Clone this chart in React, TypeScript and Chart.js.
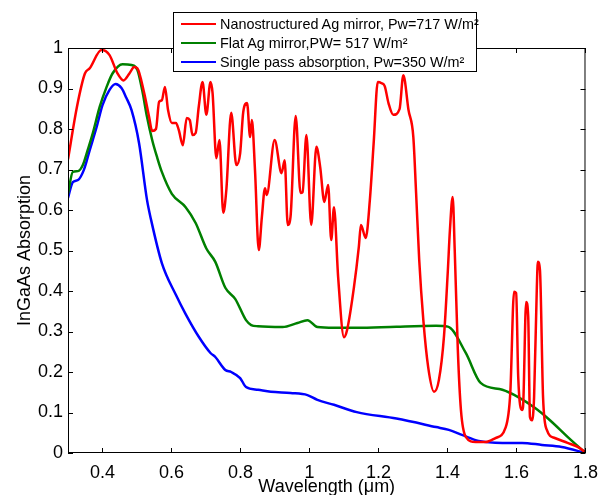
import React, { useEffect, useRef } from "react";
import { Chart, registerables } from "chart.js";

Chart.register(...registerables);

const seriesLabels = [
  "Nanostructured Ag mirror, Pw=717 W/m²",
  "Flat Ag mirror,PW= 517 W/m²",
  "Single pass absorption, Pw=350 W/m²",
];
const seriesColors = ["#ff0000", "#008000", "#0000ff"];

const nanoWavelength = [
  0.3, 0.326, 0.349, 0.363, 0.397, 0.42, 0.443, 0.461, 0.478, 0.492,
  0.501, 0.521, 0.535, 0.544, 0.555, 0.564, 0.572, 0.581, 0.59, 0.601,
  0.613, 0.621, 0.633, 0.644, 0.653, 0.661, 0.67, 0.679, 0.69, 0.701,
  0.713, 0.719, 0.73, 0.739, 0.75, 0.759, 0.773, 0.788, 0.799, 0.808,
  0.819, 0.828, 0.833, 0.842, 0.853, 0.862, 0.871, 0.876, 0.899, 0.919,
  0.928, 0.937, 0.945, 0.96, 0.974, 0.98, 0.991, 1.005, 1.02, 1.031,
  1.043, 1.054, 1.063, 1.071, 1.083, 1.1, 1.109, 1.129, 1.143, 1.149,
  1.163, 1.175, 1.186, 1.198, 1.209, 1.218, 1.229, 1.243, 1.261, 1.272,
  1.287, 1.301, 1.309, 1.318, 1.33, 1.344, 1.361, 1.375, 1.39, 1.401,
  1.407, 1.415, 1.421, 1.43, 1.439, 1.453, 1.482, 1.51, 1.539, 1.568,
  1.582, 1.593, 1.599, 1.605, 1.616, 1.619, 1.628, 1.634, 1.639, 1.645,
  1.651, 1.659, 1.662, 1.668, 1.677, 1.688, 1.711, 1.748, 1.777, 1.8,
];
const nanoAbsorption = [
  0.725, 0.855, 0.937, 0.95, 0.995, 0.983, 0.938, 0.92, 0.937, 0.953,
  0.95, 0.888, 0.83, 0.795, 0.8, 0.867, 0.871, 0.904, 0.847, 0.815,
  0.815, 0.798, 0.76, 0.827, 0.822, 0.785, 0.79, 0.855, 0.916, 0.835,
  0.916, 0.889, 0.728, 0.773, 0.593, 0.65, 0.84, 0.711, 0.74, 0.842,
  0.864, 0.78, 0.822, 0.699, 0.501, 0.583, 0.654, 0.637, 0.773, 0.691,
  0.723, 0.563, 0.583, 0.832, 0.642, 0.644, 0.785, 0.563, 0.756, 0.706,
  0.62, 0.662, 0.526, 0.607, 0.435, 0.286, 0.304, 0.41, 0.509, 0.563,
  0.531, 0.625, 0.765, 0.916, 0.913, 0.906, 0.864, 0.835, 0.849, 0.933,
  0.847, 0.78, 0.642, 0.477, 0.328, 0.212, 0.151, 0.18, 0.29, 0.45,
  0.55, 0.632, 0.5, 0.254, 0.106, 0.04, 0.027, 0.027, 0.037, 0.062,
  0.148, 0.398, 0.395, 0.188, 0.106, 0.114, 0.373, 0.336, 0.089, 0.081,
  0.138, 0.41, 0.472, 0.452, 0.138, 0.057, 0.037, 0.025, 0.015, 0.002,
];

const flatWavelength = [
  0.3, 0.314, 0.329, 0.343, 0.357, 0.372, 0.392, 0.412, 0.429, 0.458,
  0.484, 0.501, 0.515, 0.529, 0.544, 0.558, 0.572, 0.601, 0.641, 0.67,
  0.701, 0.727, 0.756, 0.785, 0.816, 0.831, 0.851, 0.922, 0.965, 0.994,
  1.023, 1.071, 1.137, 1.252, 1.367, 1.401, 1.453, 1.496, 1.559, 1.605,
  1.654, 1.697, 1.748, 1.8,
];
const flatAbsorption = [
  0.64, 0.694, 0.696, 0.711, 0.748, 0.79, 0.855, 0.904, 0.937, 0.96,
  0.958, 0.946, 0.896, 0.83, 0.773, 0.731, 0.694, 0.64, 0.607, 0.568,
  0.505, 0.472, 0.408, 0.38, 0.328, 0.316, 0.313, 0.311, 0.321, 0.328,
  0.311, 0.309, 0.309, 0.312, 0.314, 0.312, 0.247, 0.173, 0.156, 0.138,
  0.111, 0.081, 0.04, 0.0,
];

const singleWavelength = [
  0.3, 0.314, 0.329, 0.346, 0.363, 0.383, 0.4, 0.42, 0.438, 0.455,
  0.469, 0.484, 0.506, 0.529, 0.541, 0.572, 0.613, 0.641, 0.679, 0.713,
  0.727, 0.756, 0.773, 0.799, 0.816, 0.851, 0.888, 0.945, 0.994, 1.023,
  1.071, 1.137, 1.252, 1.367, 1.404, 1.444, 1.49, 1.559, 1.616, 1.674,
  1.731, 1.8,
];
const singleAbsorption = [
  0.63, 0.669, 0.674, 0.699, 0.748, 0.805, 0.859, 0.896, 0.911, 0.901,
  0.877, 0.847, 0.765, 0.625, 0.575, 0.469, 0.39, 0.343, 0.287, 0.247,
  0.237, 0.205, 0.2, 0.185, 0.163, 0.156, 0.151, 0.148, 0.143, 0.131,
  0.119, 0.101, 0.085, 0.064, 0.057, 0.044, 0.03, 0.025, 0.025, 0.02,
  0.015, 0.0,
];

const xTickValues = [0.4, 0.6, 0.8, 1, 1.2, 1.4, 1.6, 1.8];
const yTickValues = [0, 0.1, 0.2, 0.3, 0.4, 0.5, 0.6, 0.7, 0.8, 0.9, 1];

const xTitle = "Wavelength (\u03bcm)";
const yTitle = "InGaAs Absorption";

const FONT = "'Liberation Sans', Arial, Helvetica, sans-serif";

const framePlugin = {
  id: "frame",
  afterDraw(chart: any) {
    const { ctx, chartArea: a, scales } = chart;
    ctx.save();
    ctx.strokeStyle = "#000";
    ctx.lineWidth = 1;
    ctx.strokeRect(a.left + 0.5, a.top + 0.5, a.right - a.left - 1, a.bottom - a.top - 1);
    const len = 5;
    ctx.beginPath();
    for (const v of xTickValues) {
      const px = Math.round(scales.x.getPixelForValue(v)) + 0.5;
      ctx.moveTo(px, a.bottom);
      ctx.lineTo(px, a.bottom - len);
      ctx.moveTo(px, a.top);
      ctx.lineTo(px, a.top + len);
    }
    for (const v of yTickValues) {
      const py = Math.round(scales.y.getPixelForValue(v)) + 0.5;
      ctx.moveTo(a.left, py);
      ctx.lineTo(a.left + len, py);
      ctx.moveTo(a.right, py);
      ctx.lineTo(a.right - len, py);
    }
    ctx.stroke();
    ctx.restore();
  },
};

function toPoints(xs: number[], ys: number[]) {
  return xs.map((x, i) => ({ x, y: ys[i] }));
}

export default function App() {
  const canvasRef = useRef<HTMLCanvasElement | null>(null);

  useEffect(() => {
    document.body.style.margin = "0";
    const canvas = canvasRef.current;
    if (!canvas) return;
    const seriesData = [
      toPoints(nanoWavelength, nanoAbsorption),
      toPoints(flatWavelength, flatAbsorption),
      toPoints(singleWavelength, singleAbsorption),
    ];
    const chart = new Chart(canvas, {
      type: "line",
      data: {
        datasets: seriesData.map((d, i) => ({
          label: seriesLabels[i],
          data: d,
          borderColor: seriesColors[i],
          backgroundColor: seriesColors[i],
          borderWidth: 2.5,
          pointRadius: 0,
          fill: false,
          cubicInterpolationMode: "monotone" as const,
        })),
      },
      options: {
        animation: false,
        responsive: false,
        maintainAspectRatio: false,
        layout: { padding: { left: 0, top: 48, right: 16, bottom: 0 } },
        plugins: {
          legend: { display: false },
          tooltip: { enabled: false },
        },
        scales: {
          x: {
            type: "linear",
            min: 0.3,
            max: 1.8,
            afterBuildTicks: (scale: any) => {
              scale.ticks = xTickValues.map((value) => ({ value }));
            },
            afterFit: (scale: any) => {
              scale.height = 42;
            },
            grid: { display: false, drawTicks: false },
            border: { display: false },
            ticks: {
              color: "#000",
              padding: 9,
              maxRotation: 0,
              autoSkip: false,
              font: { family: FONT, size: 18 },
              callback: (v: any) => String(Number(Number(v).toFixed(1))),
            },
            title: {
              display: true,
              text: xTitle,
              color: "#000",
              font: { family: FONT, size: 18 },
              padding: { top: 0, bottom: -3 },
            },
          },
          y: {
            type: "linear",
            min: 0,
            max: 1,
            afterBuildTicks: (scale: any) => {
              scale.ticks = yTickValues.map((value) => ({ value }));
            },
            afterFit: (scale: any) => {
              scale.width = 68;
            },
            grid: { display: false, drawTicks: false },
            border: { display: false },
            ticks: {
              color: "#000",
              padding: 5,
              autoSkip: false,
              font: { family: FONT, size: 18 },
              callback: (v: any) => String(Number(Number(v).toFixed(1))),
            },
            title: {
              display: true,
              text: yTitle,
              color: "#000",
              font: { family: FONT, size: 18 },
              padding: { top: 14, bottom: 0 },
            },
          },
        },
      },
      plugins: [framePlugin],
    });
    return () => chart.destroy();
  }, []);

  const rowTops = [11, 30, 48.5];

  return (
    <div style={{ position: "absolute", left: 0, top: 0, width: 607, height: 495, background: "#fff", overflow: "hidden" }}>
      <canvas ref={canvasRef} width={607} height={495} style={{ display: "block" }} />
      <div
        style={{
          position: "absolute",
          left: 173,
          top: 12,
          width: 302,
          height: 58,
          border: "1px solid #000",
          background: "#fff",
          fontFamily: FONT,
          fontSize: 14.4,
          color: "#000",
        }}
      >
        {seriesLabels.map((label, i) => (
          <div key={label} style={{ position: "absolute", left: 0, top: rowTops[i] - 9, height: 18, whiteSpace: "nowrap" }}>
            <div
              style={{
                position: "absolute",
                left: 7,
                top: 8,
                width: 35,
                height: 2,
                background: seriesColors[i],
              }}
            />
            <span style={{ position: "absolute", left: 46, top: 0, lineHeight: "18px" }}>{label}</span>
          </div>
        ))}
      </div>
    </div>
  );
}
